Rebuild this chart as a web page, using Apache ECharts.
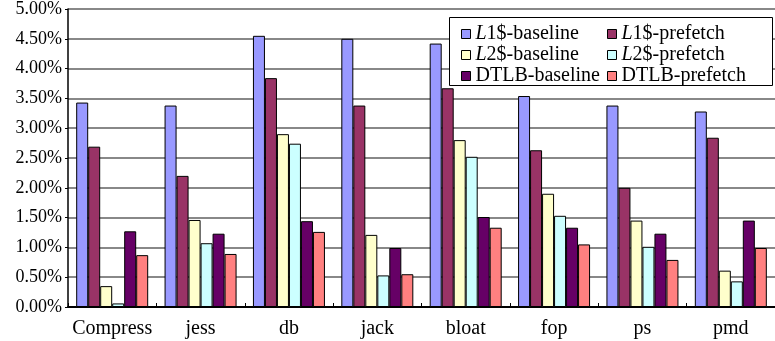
<!DOCTYPE html>
<html><head><meta charset="utf-8">
<script src="https://cdn.jsdelivr.net/npm/echarts@6/dist/echarts.min.js"></script>
<style>html,body{margin:0;padding:0;background:#fff}#c{width:775px;height:341px}</style>
</head><body><div id="c"></div>
<script>
var categories = ['Compress','jess','db','jack','bloat','fop','ps','pmd'];
var yTicks = [0,0.5,1,1.5,2,2.5,3,3.5,4,4.5,5];
var seriesNames = ['L1$-baseline','L1$-prefetch','L2$-baseline','L2$-prefetch','DTLB-baseline','DTLB-prefetch'];
var l1Baseline   = [3.43,3.38,4.55,4.50,4.42,3.54,3.38,3.28];
var l1Prefetch   = [2.69,2.20,3.84,3.38,3.67,2.63,2.00,2.84];
var l2Baseline   = [0.35,1.46,2.90,1.21,2.80,1.90,1.45,0.61];
var l2Prefetch   = [0.06,1.07,2.74,0.53,2.52,1.53,1.01,0.43];
var dtlbBaseline = [1.27,1.23,1.44,0.99,1.51,1.33,1.23,1.45];
var dtlbPrefetch = [0.87,0.89,1.26,0.55,1.33,1.05,0.79,0.99];
var seriesData = [l1Baseline,l1Prefetch,l2Baseline,l2Prefetch,dtlbBaseline,dtlbPrefetch];
var colors = ['#9999FF','#993366','#FFFFCC','#CCFFFF','#660066','#FF8080'];

var font = '"Liberation Serif","Times New Roman",serif';
var chart = echarts.init(document.getElementById('c'));

function legendFmt(name){
  if (name.charAt(0) === 'L') return '{i|L}' + name.slice(1);
  return name;
}
var legendText = {fontFamily:font,fontSize:20,color:'#000',lineHeight:20,
  rich:{i:{fontFamily:font,fontSize:20,fontStyle:'italic',color:'#000',lineHeight:20}}};

var series = seriesNames.map(function(n,i){
  return {name:n,type:'bar',data:seriesData[i],barWidth:12,barGap:'0%',
    itemStyle:{color:colors[i],borderColor:'#000',borderWidth:1},z:2};
});

chart.setOption({
  animation:false,
  color:colors,
  grid:{left:68,right:-4,top:9,bottom:34,containLabel:false},
  xAxis:{type:'category',data:categories,
    axisLine:{lineStyle:{color:'#000',width:2}},
    axisTick:{show:true,inside:true,length:4,lineStyle:{color:'#000'}},
    axisLabel:{fontFamily:font,fontSize:20,color:'#000',margin:12,interval:0},
    splitLine:{show:false}},
  yAxis:{type:'value',min:0,max:5,interval:0.5,
    axisLine:{show:true,lineStyle:{color:'#000',width:1.5}},
    axisTick:{show:true,length:3,lineStyle:{color:'#000'}},
    axisLabel:{fontFamily:font,fontSize:18,color:'#000',margin:6,
      formatter:function(v){return v.toFixed(2)+'%';}},
    splitLine:{lineStyle:{color:'#606060',width:1.5}}},
  graphic:[{type:'rect',left:449,top:17,z:3,
    shape:{width:323,height:68},
    style:{fill:'#fff',stroke:'#000',lineWidth:1}}],
  legend:[
    {orient:'vertical',left:456,top:19,z:5,itemWidth:9,itemHeight:9,itemGap:1,
     icon:'rect',data:[seriesNames[0],seriesNames[2],seriesNames[4]],
     formatter:legendFmt,textStyle:legendText,
     itemStyle:{borderColor:'#000',borderWidth:1}},
    {orient:'vertical',left:602,top:19,z:5,itemWidth:9,itemHeight:9,itemGap:1,
     icon:'rect',data:[seriesNames[1],seriesNames[3],seriesNames[5]],
     formatter:legendFmt,textStyle:legendText,
     itemStyle:{borderColor:'#000',borderWidth:1}}
  ],
  series:series
});
</script></body></html>
